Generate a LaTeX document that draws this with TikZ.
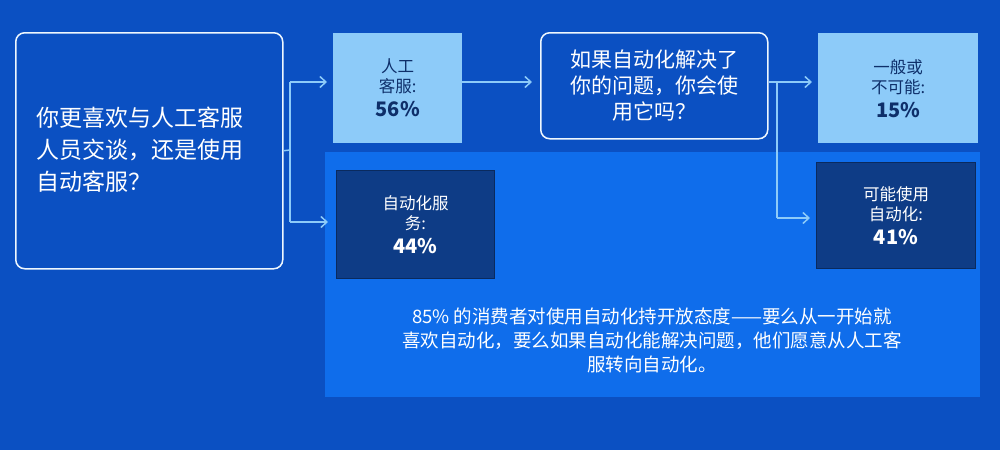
\documentclass[tikz,border=0pt]{standalone}
\usepackage{fontspec}
\setmainfont{Noto Sans CJK SC}
\usetikzlibrary{arrows.meta}
\definecolor{bg}{HTML}{0B50C2}
\definecolor{panel}{HTML}{0F6DEB}
\definecolor{lite}{HTML}{8DCBF9}
\definecolor{navy}{HTML}{0E3C86}
\definecolor{ink}{HTML}{0E2F6A}
\begin{document}
\begin{tikzpicture}[x=1pt,y=-1pt,
  outl/.style={draw=white!85!lite,line width=1.5pt,rounded corners=9pt,fill=bg,text=white,align=center,anchor=north west},
  litebox/.style={fill=lite,text=ink,align=center,anchor=north west,inner sep=0pt},
  navybox/.style={fill=navy,draw=navy!70!black,line width=1pt,text=white,align=center,anchor=north west,inner sep=0pt},
  conn/.style={draw=lite,line width=1.5pt,-{Straight Barb[length=6pt,width=11pt]}},
  ln/.style={draw=lite,line width=1.5pt},
  lab/.style={font=\fontsize{16.5}{20}\selectfont}]
\fill[bg] (0,0) rectangle (1000,450);
\useasboundingbox (0,0) rectangle (1000,450);
\fill[panel] (325,152) rectangle (980,397);
\node[outl,minimum width=267pt,minimum height=236pt] (q) at (15,32) {};
\node[text=white,align=left,anchor=west,font=\fontsize{23}{32}\selectfont] (qt) at (33,150) {你更喜欢与人工客服\\人员交谈，还是使用\\自动客服？};
\node[litebox,minimum width=129pt,minimum height=110pt,lab] (h) at (333,33) {人工\\客服:\\[4pt]{\fontsize{20}{22}\selectfont\bfseries 56\%}};
\node[outl,minimum width=227pt,minimum height=106pt,font=\fontsize{21}{26}\selectfont] (w) at (540,32) {如果自动化解决了\\你的问题，你会使\\用它吗？};
\node[litebox,minimum width=160pt,minimum height=110pt,lab] (n) at (818,33) {一般或\\不可能:\\[4pt]{\fontsize{20}{22}\selectfont\bfseries 15\%}};
\node[navybox,minimum width=158pt,minimum height=108pt,lab] (a) at (336,170) {自动化服\\务:\\[4pt]{\fontsize{20}{22}\selectfont\bfseries 44\%}};
\node[navybox,minimum width=159pt,minimum height=106pt,lab] (y) at (816,162) {可能使用\\自动化:\\[4pt]{\fontsize{20}{22}\selectfont\bfseries 41\%}};
\node[text=white,align=center,font=\fontsize{18.5}{24}\selectfont] (txt) at (652,340) {85\% 的消费者对使用自动化持开放态度——要么从一开始就\\喜欢自动化，要么如果自动化能解决问题，他们愿意从人工客\\服转向自动化。};
\coordinate (s1) at (290,150);
\coordinate (s2) at (777,82);
\draw[ln] (q.east) -- (s1);
\draw[ln] (290,82) -- (290,222);
\draw[conn] (290,82) -- (327,82);
\draw[conn] (290,222) -- (328,222);
\draw[conn] (h.east |- s2) -- (532,82);
\draw[ln] (w.east |- s2) -- (s2);
\draw[ln] (777,82) -- (777,218);
\draw[conn] (777,82) -- (812,82);
\draw[conn] (777,218) -- (810,218);
\end{tikzpicture}
\end{document}
